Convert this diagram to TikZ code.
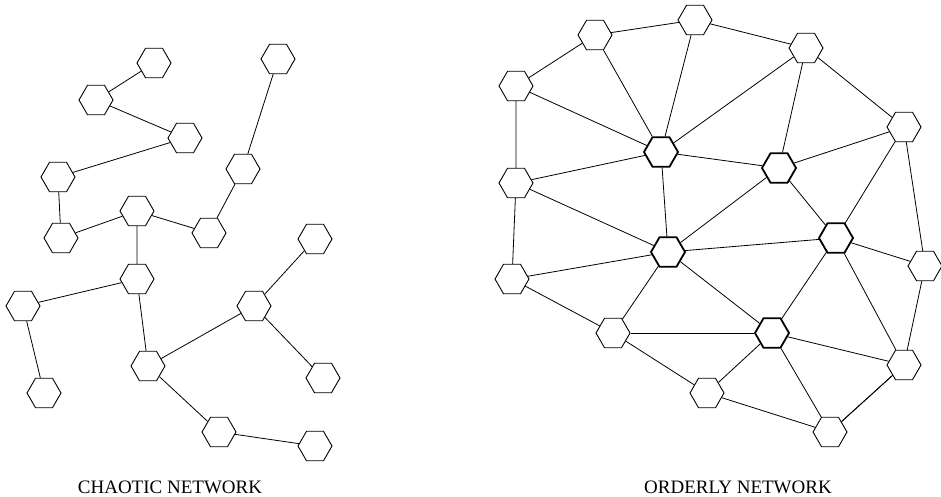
\documentclass[tikz,border=0pt]{standalone}
\usepackage{fontspec}
\setmainfont{Liberation Serif}
\usetikzlibrary{shapes.geometric}
\begin{document}
\begin{tikzpicture}[x=1pt,y=-1pt,line width=0.8pt,
    hex/.style={regular polygon,regular polygon sides=6,minimum size=34pt,inner sep=0pt,draw,line width=0.9pt},
    hexbold/.style={hex,line width=1.8pt}]
    \useasboundingbox (0,0) rectangle (941,497);
    % chaotic network
    \node[hex] (c1) at (154,63) {}; \node[hex] (c2) at (96,100) {};
    \node[hex] (c3) at (185,138) {}; \node[hex] (c4) at (58,177) {};
    \node[hex] (c5) at (278,59) {}; \node[hex] (c6) at (243,169) {};
    \node[hex] (c7) at (137,211) {}; \node[hex] (c8) at (209,233) {};
    \node[hex] (c9) at (61,238) {}; \node[hex] (c10) at (137,279) {};
    \node[hex] (c11) at (23,306) {}; \node[hex] (c12) at (44,393) {};
    \node[hex] (c13) at (148,366) {}; \node[hex] (c14) at (254,306) {};
    \node[hex] (c15) at (315,239) {}; \node[hex] (c16) at (323,378) {};
    \node[hex] (c17) at (219,432) {}; \node[hex] (c18) at (315,446) {};
    \draw (c1) -- (c2) -- (c3) -- (c4) -- (c9) -- (c7) -- (c8) -- (c6) -- (c5);
    \draw (c7) -- (c10) -- (c11) -- (c12);
    \draw (c10) -- (c13) -- (c14) -- (c15); \draw (c14) -- (c16);
    \draw (c13) -- (c17) -- (c18);
    \node[anchor=base,font=\fontsize{19}{22}\selectfont] (chaos) at (170,493) {CHAOTIC NETWORK};
    % orderly network
    \node[hex] (o1) at (595,35) {}; \node[hex] (o2) at (695,20) {};
    \node[hex] (o3) at (806,48) {}; \node[hex] (o4) at (516,86) {};
    \node[hexbold] (o5) at (661,152) {}; \node[hexbold] (o6) at (779,168) {};
    \node[hex] (o7) at (904,127) {}; \node[hex] (o8) at (516,183) {};
    \node[hexbold] (o9) at (668,252) {}; \node[hexbold] (o10) at (836,238) {};
    \node[hex] (o11) at (925,266) {}; \node[hex] (o12) at (512,279) {};
    \node[hex] (o13) at (613,333) {}; \node[hexbold] (o14) at (772,333) {};
    \node[hex] (o15) at (904,365) {}; \node[hex] (o16) at (707,393) {};
    \node[hex] (o17) at (830,432) {};
    \draw (o8) -- (o4) -- (o1) -- (o2) -- (o3) -- (o7) -- (o11) -- (o15) -- (o17) -- (o16) -- (o13) -- (o12) -- (o8);
    \foreach \a/\b in {o4/o5,o1/o5,o2/o5,o3/o5,o3/o6,o7/o6,o7/o10,o5/o8,o5/o6,o5/o9,
        o6/o9,o6/o10,o8/o9,o12/o9,o9/o13,o9/o14,o9/o10,o10/o11,o10/o14,o10/o15,
        o13/o14,o14/o16,o14/o15,o14/o17,o15/o17}
        \draw (\a) -- (\b);
    \node[anchor=base,font=\fontsize{19}{22}\selectfont] (order) at (738,493) {ORDERLY NETWORK};
\end{tikzpicture}
\end{document}
